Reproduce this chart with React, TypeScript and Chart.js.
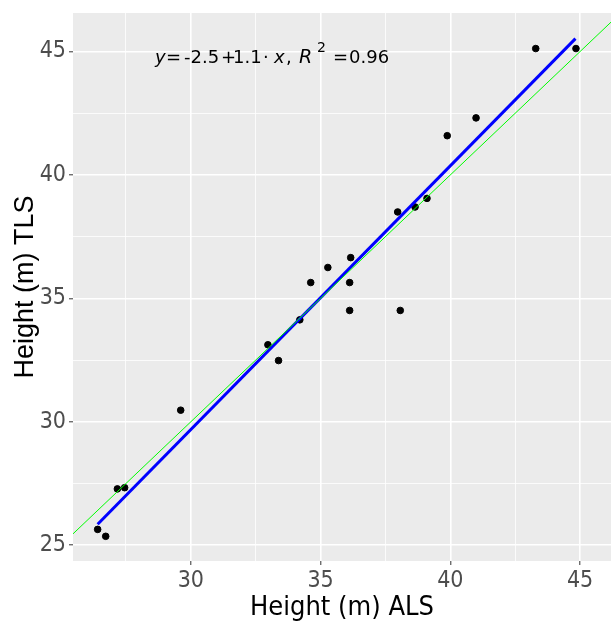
import React, { useEffect, useRef } from "react";
import { Chart, registerables } from "chart.js";

Chart.register(...registerables);

// Height (m) ALS vs Height (m) TLS
const alsHeights = [43.29, 44.84, 40.99, 39.88, 39.1, 37.97, 38.64, 36.16, 35.28, 34.62, 36.12, 36.12, 38.07, 34.2, 32.97, 33.38, 29.61, 27.17, 27.45, 26.41, 26.72];
const tlsHeights = [45.12, 45.12, 42.31, 41.59, 39.05, 38.5, 38.7, 36.65, 36.25, 35.64, 35.64, 34.51, 34.51, 34.13, 33.12, 32.48, 30.47, 27.28, 27.33, 25.64, 25.36];

// fitted regression line (endpoints)
const fitX = [26.41, 44.82];
const fitY = [25.85, 45.52];

// 1:1 reference line
const oneToOne = [20, 50];

const xTicks = [27.5, 30, 32.5, 35, 37.5, 40, 42.5, 45];
const yTicks = [25, 27.5, 30, 32.5, 35, 37.5, 40, 42.5, 45];
const xRange = [25.46, 46.19];
const yRange = [24.36, 46.56];

// [style, text, x offset from start (px)]
const equationParts: [string, string, number][] = [
  ["italic", "y", 0],
  ["normal", "=", 11],
  ["normal", "-2.5", 29],
  ["normal", "+", 66],
  ["normal", "1.1", 78],
  ["normal", "\u00b7", 108],
  ["italic", "x", 119],
  ["normal", ",", 131],
  ["italicR", "R", 144],
  ["sup", "2", 162],
  ["normal", "=", 178],
  ["normal", "0.96", 194],
];
const equationPos = [28.62, 44.54];

const FONT = "'Liberation Sans', Arial, sans-serif";
const EQFONT = "'DejaVu Sans', sans-serif";
const NARROW = "'Liberation Sans Narrow', 'Arial Narrow', 'DejaVu Sans Condensed', sans-serif";

export default function App() {
  const ref = useRef<HTMLCanvasElement | null>(null);
  useEffect(() => {
    document.body.style.margin = "0";
    const canvas = ref.current!;
    const bgPlugin = {
      id: "panelBg",
      beforeDraw(chart: any) {
        const { ctx, chartArea } = chart;
        ctx.save();
        ctx.fillStyle = "#EBEBEB";
        ctx.fillRect(chartArea.left, chartArea.top, chartArea.right - chartArea.left, chartArea.bottom - chartArea.top);
        ctx.restore();
      },
    };
    const eqPlugin = {
      id: "equation",
      afterDatasetsDraw(chart: any) {
        const { ctx, scales } = chart;
        const x0 = scales.x.getPixelForValue(equationPos[0]);
        const y = scales.y.getPixelForValue(equationPos[1]);
        ctx.save();
        ctx.fillStyle = "#000000";
        ctx.textBaseline = "alphabetic";
        ctx.textAlign = "left";
        for (const [style, txt, off] of equationParts) {
          if (style === "italic") ctx.font = `italic 18px ${EQFONT}`;
          else if (style === "italicR") ctx.font = `italic 19px ${EQFONT}`;
          else if (style === "sup") ctx.font = `14px ${EQFONT}`;
          else ctx.font = `18px ${EQFONT}`;
          const dy = style === "sup" ? -11 : 0;
          ctx.fillText(txt, x0 + off, y + dy);
        }
        ctx.restore();
      },
    };
    const isMajor = (v: number) => Math.abs(v % 5) < 1e-9;
    const gridOpts = {
      color: "#FFFFFF",
      lineWidth: (c: any) => (c.tick && isMajor(c.tick.value) ? 1.6 : 0.8),
      tickColor: (c: any) => (c.tick && isMajor(c.tick.value) ? "#333333" : "rgba(0,0,0,0)"),
      tickLength: 4,
      tickWidth: 1,
      drawOnChartArea: true,
    };
    const chart = new Chart(canvas, {
      type: "scatter",
      data: {
        datasets: [
          {
            label: "points",
            data: alsHeights.map((v, i) => ({ x: v, y: tlsHeights[i] })),
            backgroundColor: "#000000",
            borderColor: "#000000",
            pointRadius: 3.3,
            order: 3,
          },
          {
            label: "fit",
            type: "line",
            data: fitX.map((v, i) => ({ x: v, y: fitY[i] })),
            borderColor: "#0000FF",
            borderWidth: 3,
            pointRadius: 0,
            fill: false,
            order: 2,
          },
          {
            label: "1:1",
            type: "line",
            data: oneToOne.map((v) => ({ x: v, y: v })),
            borderColor: "#00FF00",
            borderWidth: 1,
            pointRadius: 0,
            fill: false,
            order: 1,
          },
        ],
      },
      options: {
        responsive: false,
        animation: false,
        layout: { autoPadding: false, padding: { top: 13, right: 0, left: 0, bottom: 0 } },
        plugins: { legend: { display: false }, tooltip: { enabled: false } },
        scales: {
          x: {
            type: "linear",
            min: xRange[0],
            max: xRange[1],
            afterBuildTicks: (s: any) => {
              s.ticks = xTicks.map((v) => ({ value: v }));
            },
            afterFit: (s: any) => {
              s.height = 60;
              s.paddingLeft = 0;
              s.paddingRight = 0;
            },
            grid: gridOpts as any,
            border: { display: false },
            ticks: {
              color: "#4D4D4D",
              font: { family: NARROW, size: 23 },
              padding: 2,
              maxRotation: 0,
              autoSkip: false,
              callback: (v: any) => (isMajor(Number(v)) ? String(v) : ""),
            },
            title: {
              display: true,
              text: "Height (m) ALS",
              color: "#000000",
              font: { family: NARROW, size: 27 },
              padding: { top: 0, bottom: -3 },
            },
          },
          y: {
            type: "linear",
            min: yRange[0],
            max: yRange[1],
            afterBuildTicks: (s: any) => {
              s.ticks = yTicks.map((v) => ({ value: v }));
            },
            afterFit: (s: any) => {
              s.width = 73;
              s.paddingTop = 0;
              s.paddingBottom = 0;
            },
            grid: gridOpts as any,
            border: { display: false },
            ticks: {
              color: "#4D4D4D",
              font: { family: NARROW, size: 23 },
              padding: 3,
              autoSkip: false,
              callback: (v: any) => (isMajor(Number(v)) ? String(v) : ""),
            },
            title: {
              display: true,
              text: "Height (m) TLS",
              color: "#000000",
              font: { family: FONT, size: 27 },
              padding: { top: 9, bottom: 0 },
            },
          },
        },
      },
      plugins: [bgPlugin, eqPlugin],
    });
    return () => chart.destroy();
  }, []);
  return <canvas ref={ref} width={611} height={621} style={{ display: "block" }} />;
}
